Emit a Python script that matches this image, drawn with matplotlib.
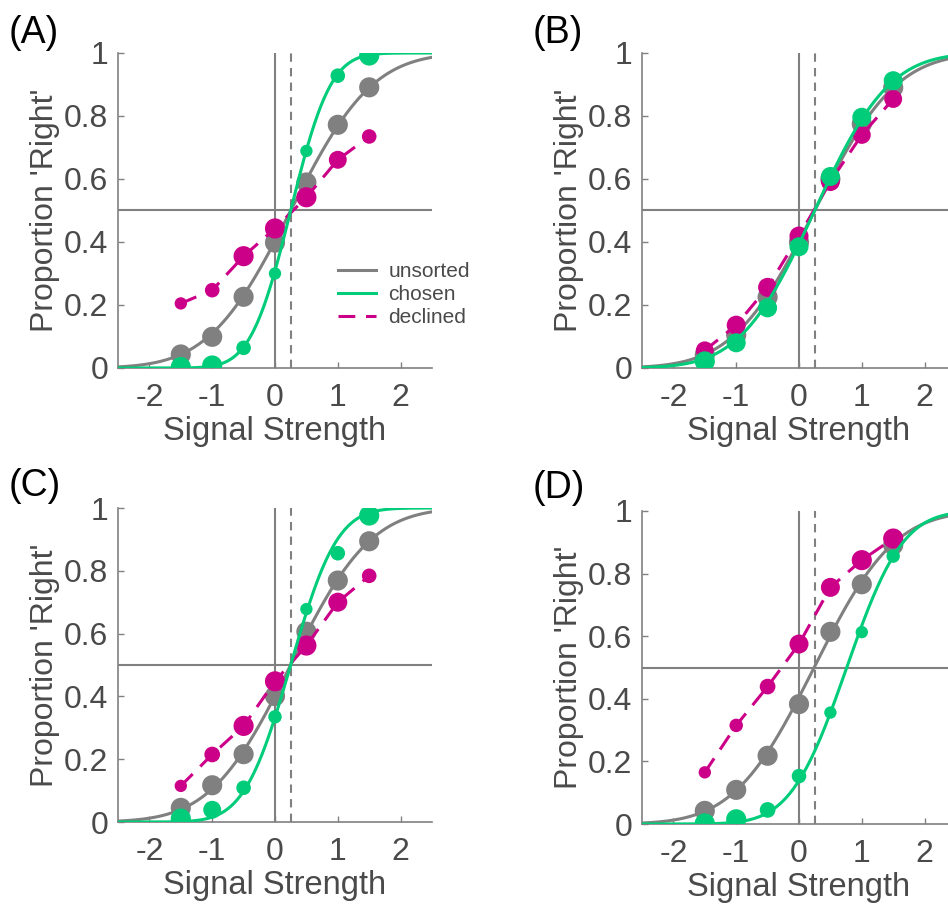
import math
import numpy as np
from matplotlib import pyplot as plt

plt.rcParams['font.family'] = ['Liberation Sans', 'DejaVu Sans']
plt.rcParams['axes.unicode_minus'] = False

signal = [-1.5, -1.0, -0.5, 0.0, 0.5, 1.0, 1.5]
panel_names = ['(A)', '(B)', '(C)', '(D)']

# proportion 'right' per signal level
unsorted_a = [0.043, 0.099, 0.226, 0.398, 0.589, 0.772, 0.891]
chosen_a = [0.003, 0.008, 0.064, 0.300, 0.689, 0.928, 0.992]
declined_a = [0.205, 0.247, 0.355, 0.443, 0.542, 0.661, 0.735]

unsorted_b = [0.042, 0.105, 0.225, 0.400, 0.600, 0.775, 0.890]
chosen_b = [0.021, 0.080, 0.191, 0.385, 0.608, 0.796, 0.912]
declined_b = [0.056, 0.136, 0.256, 0.419, 0.592, 0.740, 0.854]

unsorted_c = [0.045, 0.117, 0.216, 0.401, 0.606, 0.769, 0.894]
chosen_c = [0.011, 0.039, 0.109, 0.335, 0.678, 0.856, 0.976]
declined_c = [0.115, 0.215, 0.306, 0.448, 0.562, 0.700, 0.784]

unsorted_d = [0.042, 0.109, 0.218, 0.383, 0.614, 0.766, 0.891]
chosen_d = [0.002, 0.015, 0.045, 0.153, 0.356, 0.613, 0.856]
declined_d = [0.165, 0.315, 0.439, 0.575, 0.756, 0.843, 0.912]

# relative trial counts (marker size), 1 = large
n_unsorted = [1, 1, 1, 1, 1, 1, 1]
n_chosen_a = [1, 1, 0.5, 0.3, 0.3, 0.5, 1]
n_declined_a = [0.3, 0.5, 1, 1, 1, 0.8, 0.5]
n_chosen_b = [1, 0.9, 0.9, 0.9, 0.9, 0.9, 0.9]
n_declined_b = [0.8, 0.9, 0.9, 0.9, 0.9, 0.8, 0.8]
n_chosen_c = [1, 0.8, 0.5, 0.4, 0.3, 0.5, 1]
n_declined_c = [0.3, 0.6, 1, 1, 1, 0.9, 0.5]
n_chosen_d = [1, 1, 0.6, 0.5, 0.3, 0.3, 0.4]
n_declined_d = [0.3, 0.4, 0.6, 0.9, 0.9, 1, 1]

# cumulative gaussian fits (mean, sd)
fit_unsorted = [(0.25, 1.02), (0.25, 1.02), (0.25, 1.0), (0.24, 1.0)]
fit_chosen = [(0.25, 0.50), (0.25, 0.93), (0.25, 0.58), (0.76, 0.70)]

gray = '#808080'
green = '#00CC7A'
magenta = '#CC0088'
text_col = '#4a4a4a'


def cum_gauss(x, mu, sd):
    return np.array([0.5 * (1 + math.erf((v - mu) / (sd * math.sqrt(2)))) for v in x])


def size(n):
    return [(6.5 + 8.0 * v) ** 2 for v in n]


fig = plt.figure(figsize=(9.48, 9.07), dpi=100)
W, H = 948, 907
boxes = [(118, 53, 314, 315), (642, 53, 314, 315), (118, 508, 314, 314), (642, 511, 314, 313)]
label_pos = [(9, 33), (533, 33), (9, 486), (533, 488)]

data = [
    (unsorted_a, chosen_a, declined_a, n_chosen_a, n_declined_a),
    (unsorted_b, chosen_b, declined_b, n_chosen_b, n_declined_b),
    (unsorted_c, chosen_c, declined_c, n_chosen_c, n_declined_c),
    (unsorted_d, chosen_d, declined_d, n_chosen_d, n_declined_d),
]

xs = np.linspace(-2.5, 2.5, 300)
for i in range(4):
    l, t, w, h = boxes[i]
    ax = fig.add_axes([l / W, 1 - (t + h) / H, w / W, h / H])
    uns, cho, dec, nc, nd = data[i]

    ax.axhline(0.5, color=gray, lw=1.5, zorder=1)
    ax.axvline(0, color=gray, lw=1.5, zorder=1)
    ax.axvline(0.25, color=gray, lw=1.5, ls=(0, (4, 3)), zorder=1)

    mu, sd = fit_unsorted[i]
    ax.plot(xs, cum_gauss(xs, mu, sd), color=gray, lw=2.2, zorder=2, label='unsorted')
    ax.scatter(signal, uns, s=size(n_unsorted), color=gray, zorder=3, linewidths=0)
    mu, sd = fit_chosen[i]
    ax.plot(xs, cum_gauss(xs, mu, sd), color=green, lw=2.2, zorder=4, label='chosen')
    ax.plot(signal, dec, color=magenta, lw=2.2, ls=(0, (5.5, 3.5)), zorder=3.5, label='declined')
    ax.scatter(signal, dec, s=size(nd), color=magenta, zorder=3.6, linewidths=0)
    ax.scatter(signal, cho, s=size(nc), color=green, zorder=5, linewidths=0)

    ax.set_xlim(-2.5, 2.5)
    ax.set_ylim(0, 1)
    ax.set_xticks([-2, -1, 0, 1, 2])
    ax.set_yticks([0, 0.2, 0.4, 0.6, 0.8, 1])
    ax.set_yticklabels(['0', '0.2', '0.4', '0.6', '0.8', '1'])
    ax.tick_params(direction='in', length=4, width=1, color=gray, labelsize=23,
                   labelcolor=text_col)
    ax.tick_params(axis='x', pad=11)
    ax.tick_params(axis='y', pad=7)
    for side in ['top', 'right']:
        ax.spines[side].set_visible(False)
    for side in ['left', 'bottom']:
        ax.spines[side].set_color(gray)
        ax.spines[side].set_linewidth(1.2)
    ax.set_xlabel('Signal Strength', fontsize=23.5, color=text_col, labelpad=2)
    ax.set_ylabel("Proportion 'Right'", fontsize=23, color=text_col, labelpad=3)

    if i == 0:
        ax.legend(loc='lower right', bbox_to_anchor=(1.18, 0.07), frameon=False, fontsize=15,
                  handlelength=1.8, handletextpad=0.6, labelspacing=0.2, labelcolor=text_col)

    lx, ly = label_pos[i]
    fig.text(lx / W, 1 - ly / H, panel_names[i], fontsize=27, va='center', ha='left', color='black')

fig.savefig('out.png', dpi=100)
